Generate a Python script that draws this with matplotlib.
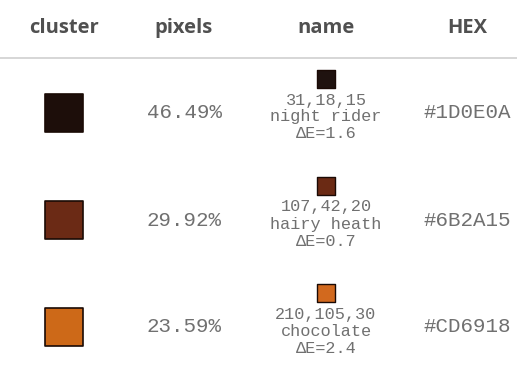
import matplotlib.pyplot as plt

# table content
headers = ["cluster", "pixels", "name", "HEX"]
cluster_hex = ["#1D0E0A", "#6B2A15", "#CD6918"]
pixel_pct = [46.49, 29.92, 23.59]
name_rgb = [(31, 18, 15), (107, 42, 20), (210, 105, 30)]
color_names = ["night rider", "hairy heath", "chocolate"]
delta_e = [1.6, 0.7, 2.4]

W, H = 517, 369
fig = plt.figure(figsize=(W / 100, H / 100), dpi=100)
ax = fig.add_axes([0, 0, 1, 1])
ax.set_xlim(0, W)
# one row = 107 px, row 0 centred at 113 px from top
row_h = 107
ax.set_ylim((H - 113) / row_h, -113 / row_h)
ax.axis("off")

col_x = [64, 184, 326, 467]
mono = "Liberation Mono"
grey = "#707070"

for x, h in zip(col_x, headers):
    ax.text(x, -85 / row_h, h, ha="center", va="center", fontsize=14.5,
            fontweight="bold", family="Open Sans", color="#505050")
ax.axhline(-55 / row_h, color="#d0d0d0", lw=1.2)

for i in range(len(cluster_hex)):
    ax.scatter(col_x[0], i, s=760, marker="s", color=cluster_hex[i],
               edgecolor="#1a0a05", linewidth=1.2)
    ax.text(col_x[1], i, f"{pixel_pct[i]:.2f}%", ha="center", va="center",
            fontsize=15, family=mono, color=grey)
    r, g, b = name_rgb[i]
    ax.scatter(col_x[2], i - 34 / row_h, s=175, marker="s",
               color=(r / 255, g / 255, b / 255), edgecolor="#1a0a05", linewidth=1.0)
    lines = [f"{r},{g},{b}", color_names[i], f"ΔE={delta_e[i]}"]
    for k, line in enumerate(lines):
        ax.text(col_x[2], i + (-13 + 17 * k) / row_h, line, ha="center",
                va="center", fontsize=12.2, family=mono, color=grey)
    ax.text(col_x[3], i, cluster_hex[i], ha="center", va="center",
            fontsize=15, family=mono, color=grey)

fig.savefig("out.png", dpi=100, facecolor="white")
